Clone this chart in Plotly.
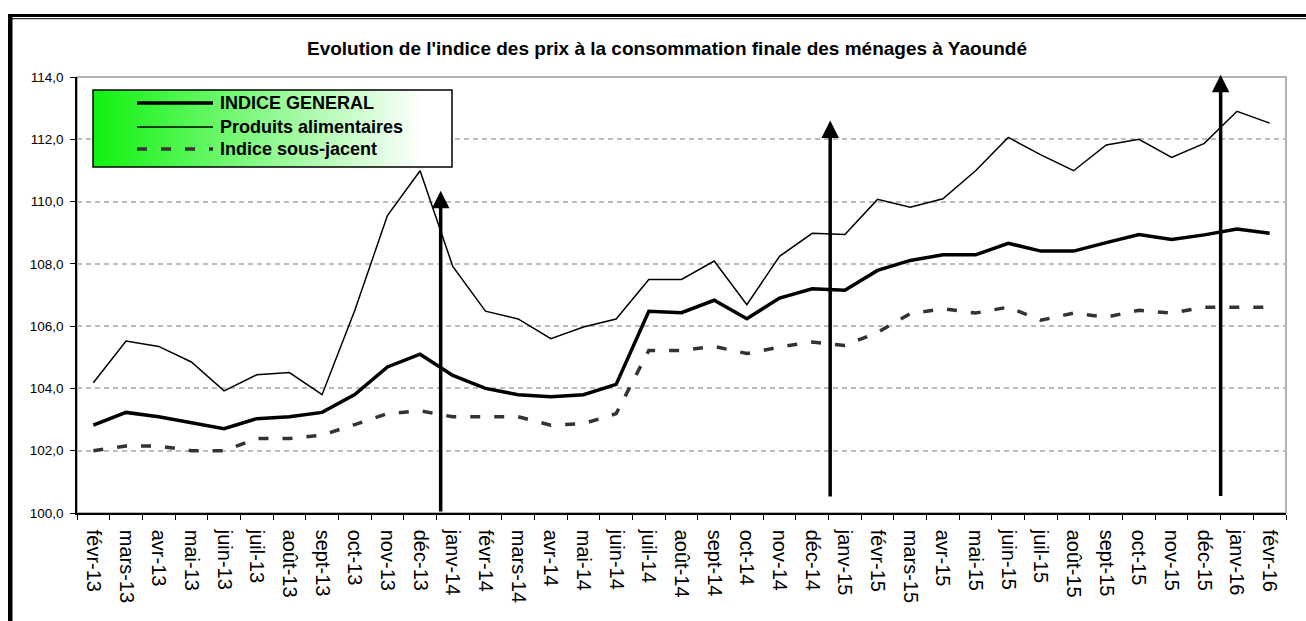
import base64
import plotly.graph_objects as go

# ---------------- data ----------------
months = ["févr-13", "mars-13", "avr-13", "mai-13", "juin-13", "juil-13", "août-13",
          "sept-13", "oct-13", "nov-13", "déc-13", "janv-14", "févr-14", "mars-14",
          "avr-14", "mai-14", "juin-14", "juil-14", "août-14", "sept-14", "oct-14",
          "nov-14", "déc-14", "janv-15", "févr-15", "mars-15", "avr-15", "mai-15",
          "juin-15", "juil-15", "août-15", "sept-15", "oct-15", "nov-15", "déc-15",
          "janv-16", "févr-16"]

indice_general = [102.82, 103.23, 103.09, 102.90, 102.71, 103.03, 103.09, 103.23, 103.80,
                  104.69, 105.10, 104.42, 104.00, 103.80, 103.73, 103.80, 104.13, 106.48,
                  106.43, 106.83, 106.24, 106.90, 107.20, 107.15, 107.79, 108.11, 108.29,
                  108.29, 108.66, 108.41, 108.41, 108.68, 108.94, 108.78, 108.93, 109.12,
                  108.98]

produits_alimentaires = [104.18, 105.52, 105.35, 104.85, 103.92, 104.44, 104.51, 103.80,
                         106.50, 109.55, 110.99, 107.92, 106.48, 106.23, 105.60, 105.97,
                         106.23, 107.50, 107.50, 108.09, 106.69, 108.24, 108.98, 108.94,
                         110.07, 109.82, 110.09, 110.99, 112.06, 111.50, 110.99, 111.82,
                         112.00, 111.42, 111.87, 112.90, 112.52]

indice_sous_jacent = [102.00, 102.15, 102.15, 102.00, 102.00, 102.39, 102.39, 102.50, 102.84,
                      103.19, 103.28, 103.09, 103.09, 103.09, 102.82, 102.87, 103.19, 105.22,
                      105.22, 105.35, 105.12, 105.33, 105.49, 105.38, 105.80, 106.40, 106.56,
                      106.42, 106.61, 106.19, 106.42, 106.29, 106.51, 106.42, 106.61, 106.61,
                      106.61]

series_names = ["INDICE GENERAL", "Produits alimentaires", "Indice sous-jacent"]

y_min, y_max, y_step = 100, 114, 2

# vertical arrows (category index position, tip value, tail value)
arrow_x = [10.63, 22.55, 34.5]
arrow_top = [110.35, 112.6, 114.07]
arrow_bottom = [100.0, 100.48, 100.5]

title_text = "Evolution de l'indice des prix à la consommation finale des ménages à Yaoundé"

# ---------------- geometry helpers ----------------
W, H = 1306, 621
L, R, T, B = 77, 1286, 77, 513  # plot area in pixels


def px(x):
    return (x - L) / (R - L)


def py(y):
    return (B - y) / (B - T)


FONT = "Liberation Sans, Arial, sans-serif"

fig = go.Figure()
fig.add_trace(go.Scatter(x=months, y=produits_alimentaires, mode="lines", name=series_names[1],
                         line=dict(color="black", width=1.5)))
fig.add_trace(go.Scatter(x=months, y=indice_sous_jacent, mode="lines", name=series_names[2],
                         line=dict(color="#333333", width=3.5, dash="10px,14px")))
fig.add_trace(go.Scatter(x=months, y=indice_general, mode="lines", name=series_names[0],
                         line=dict(color="black", width=3.5)))

fig.update_layout(
    width=W, height=H,
    margin=dict(l=L, r=W - R, t=T, b=H - B, pad=0),
    paper_bgcolor="white", plot_bgcolor="white",
    separators=", ",
    showlegend=False,
    font=dict(family=FONT, color="black"),
)

fig.update_xaxes(
    type="category", categoryorder="array", categoryarray=months,
    range=[-0.5, len(months) - 0.5],
    tickson="boundaries", ticks="outside", ticklen=5, tickwidth=1, tickcolor="black",
    tickangle=90, tickfont=dict(size=20, family=FONT, color="black"),
    ticklabelstandoff=11,
    showline=True, linecolor="black", linewidth=1.5,
    showgrid=False, zeroline=False,
)
fig.update_yaxes(
    range=[y_min, y_max], tick0=y_min, dtick=y_step, tickformat=".1f",
    ticks="outside", ticklen=5, tickwidth=1, tickcolor="black",
    tickfont=dict(size=13.5, family=FONT, color="black"),
    ticklabelstandoff=4,
    showline=True, linecolor="black", linewidth=1.5,
    showgrid=True, gridcolor="#bdbdbd", gridwidth=1.5, griddash="5px,4px",
    zeroline=False,
)

shapes = []
# gray plot-area frame
shapes.append(dict(type="rect", xref="paper", yref="paper", x0=0, x1=1, y0=0, y1=1,
                   line=dict(color="#999999", width=1.5), layer="below"))
# outer chart frame (top double line and thick left line)
shapes.append(dict(type="rect", xref="paper", yref="paper", x0=px(8), x1=px(1306),
                   y0=py(17), y1=py(14), fillcolor="black", line=dict(width=0)))
shapes.append(dict(type="line", xref="paper", yref="paper", x0=px(8), x1=px(1306),
                   y0=py(18.7), y1=py(18.7), line=dict(color="black", width=1)))
shapes.append(dict(type="rect", xref="paper", yref="paper", x0=px(8), x1=px(12.5),
                   y0=py(621), y1=py(14), fillcolor="black", line=dict(width=0)))

# legend box
LX0, LX1, LY0, LY1 = 93, 452, 90, 167
shapes.append(dict(type="rect", xref="paper", yref="paper", x0=px(LX0), x1=px(LX1),
                   y0=py(LY1), y1=py(LY0), line=dict(color="black", width=1.5)))
legend_rows = [103, 127, 149]
legend_styles = [dict(color="black", width=3.5),
                 dict(color="black", width=1.5),
                 dict(color="#333333", width=3.5, dash="10px,14px")]
for yrow, st in zip(legend_rows, legend_styles):
    shapes.append(dict(type="line", xref="paper", yref="paper", x0=px(137), x1=px(213),
                       y0=py(yrow), y1=py(yrow), line=st))

svg = ('<svg xmlns="http://www.w3.org/2000/svg" width="360" height="77" preserveAspectRatio="none">'
       '<defs><linearGradient id="g" x1="0" y1="0" x2="1" y2="0">'
       '<stop offset="0" stop-color="#0ef20e"/><stop offset="0.92" stop-color="#ffffff"/>'
       '</linearGradient></defs><rect width="360" height="77" fill="url(#g)"/></svg>')
src = "data:image/svg+xml;base64," + base64.b64encode(svg.encode()).decode()
fig.add_layout_image(dict(source=src, xref="paper", yref="paper", x=px(LX0), y=py(LY0),
                          sizex=px(LX1) - px(LX0), sizey=py(LY0) - py(LY1),
                          xanchor="left", yanchor="top", sizing="stretch", layer="above"))

fig.update_layout(shapes=shapes)

annotations = []
for name, yrow in zip(series_names, legend_rows):
    annotations.append(dict(text=name, xref="paper", yref="paper", x=px(218), y=py(yrow),
                            xanchor="left", yanchor="middle", showarrow=False,
                            font=dict(size=18, family=FONT, color="black", weight="bold")))
annotations.append(dict(text=title_text, xref="paper", yref="paper", x=px(667), y=py(48),
                        xanchor="center", yanchor="middle", showarrow=False,
                        font=dict(size=19, family=FONT, color="black", weight="bold")))
for xa, yt, yb in zip(arrow_x, arrow_top, arrow_bottom):
    annotations.append(dict(x=xa, y=yt, ax=xa, ay=yb, xref="x", yref="y", axref="x", ayref="y",
                            text="", showarrow=True, arrowhead=2, arrowsize=1, arrowwidth=3.5,
                            arrowcolor="black", standoff=0, startstandoff=0))
fig.update_layout(annotations=annotations)

fig.write_html("out.html", config={"displayModeBar": False},
               post_script="document.body.style.margin='0';document.body.style.overflow='hidden';")
